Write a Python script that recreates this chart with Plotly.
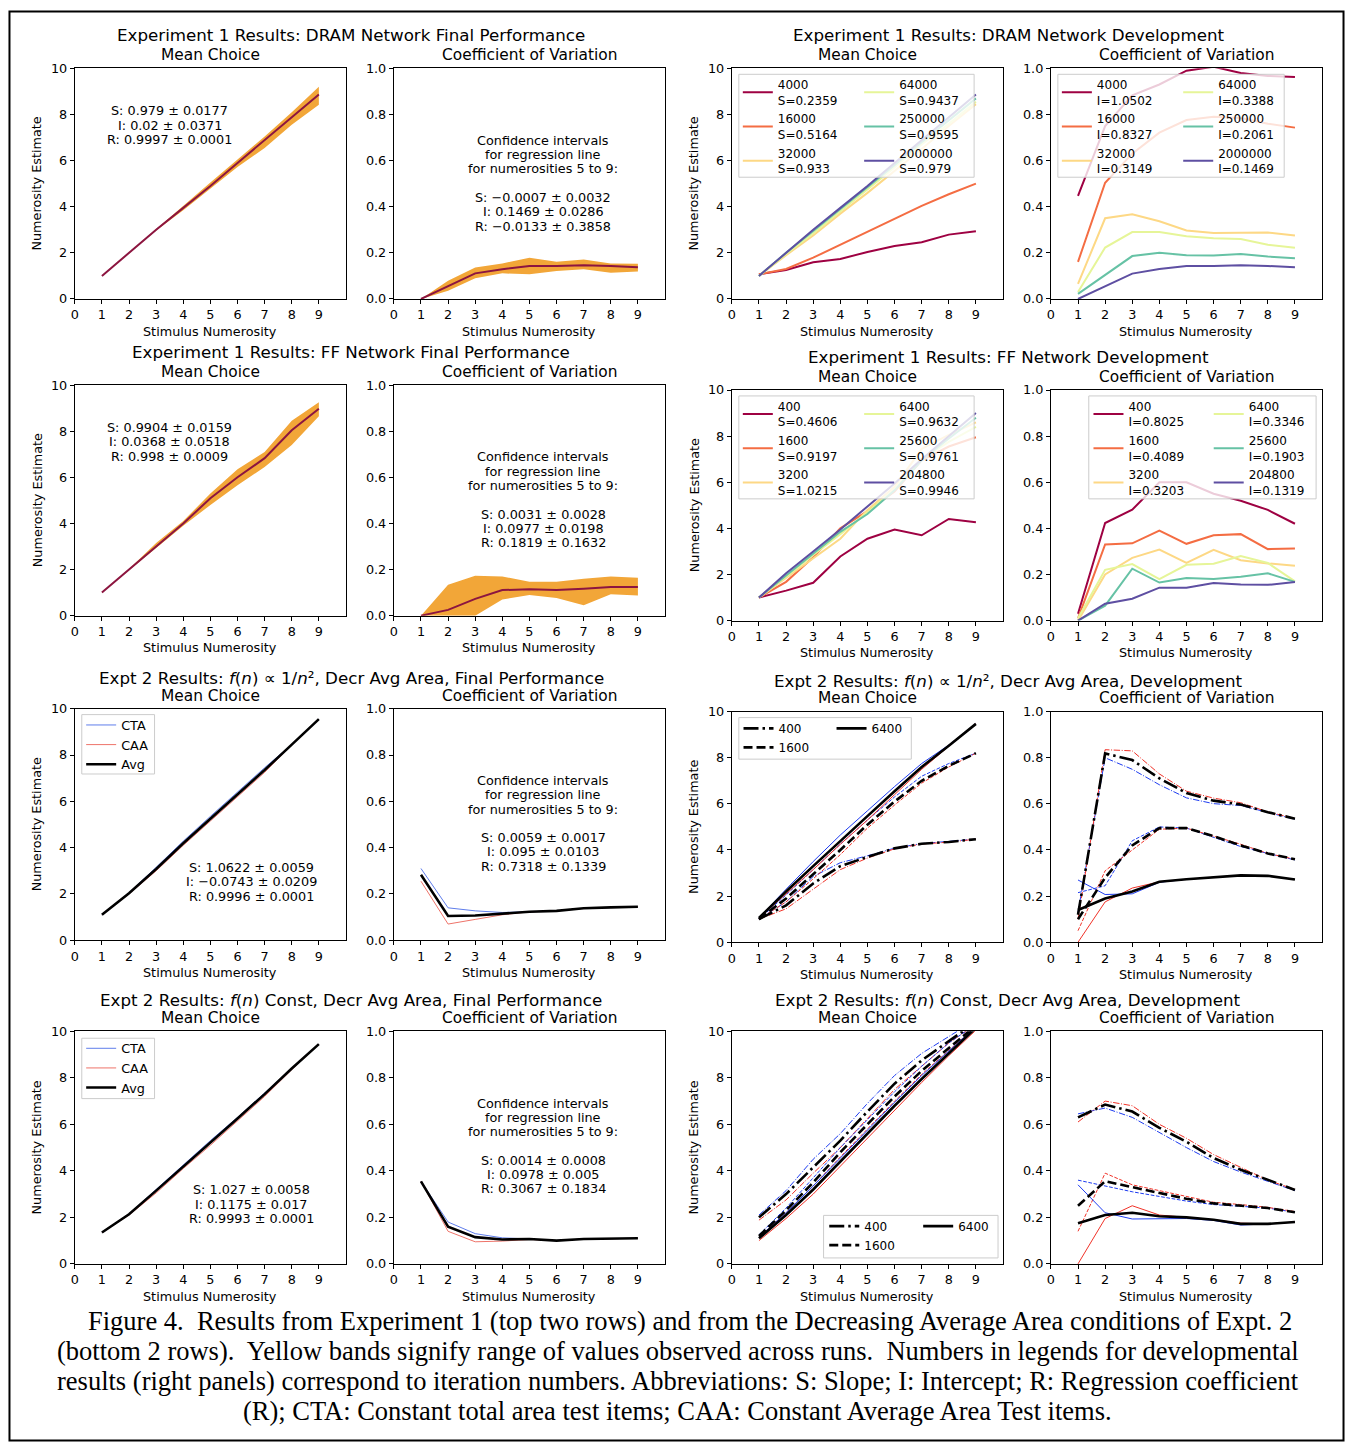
import plotly.graph_objects as go

W, H = 1349, 1451
FONT = "DejaVu Sans"
SERIF = "Liberation Serif"

# ---------------- data ----------------
X = [1, 2, 3, 4, 5, 6, 7, 8, 9]
X_TICKS = [0, 1, 2, 3, 4, 5, 6, 7, 8, 9]
MEAN_TICKS = [0, 2, 4, 6, 8, 10]
CV_TICKS = [0.0, 0.2, 0.4, 0.6, 0.8, 1.0]

# Experiment 1, DRAM final performance
dram_mean = [1.0, 2.0, 3.0, 3.95, 4.9, 5.9, 6.9, 7.9, 8.87]
dram_mean_hi = [1.0, 2.02, 3.03, 4.05, 5.05, 6.05, 7.05, 8.1, 9.2]
dram_mean_lo = [1.0, 1.98, 2.97, 3.85, 4.78, 5.72, 6.55, 7.55, 8.42]
dram_cv = [0.0, 0.054, 0.111, 0.129, 0.143, 0.143, 0.146, 0.143, 0.137]
dram_cv_hi = [0.0, 0.079, 0.136, 0.154, 0.179, 0.161, 0.171, 0.154, 0.153]
dram_cv_lo = [0.0, 0.036, 0.09, 0.111, 0.107, 0.121, 0.129, 0.114, 0.119]

# Experiment 1, DRAM development
dram_iters = ["4000", "16000", "32000", "64000", "250000", "2000000"]
dram_slopes = ["0.2359", "0.5164", "0.933", "0.9437", "0.9595", "0.979"]
dram_intercepts = ["1.0502", "0.8327", "0.3149", "0.3388", "0.2061", "0.1469"]
dram_mean_4000 = [1.07, 1.26, 1.59, 1.73, 2.04, 2.3, 2.46, 2.79, 2.94]
dram_mean_16000 = [1.07, 1.3, 1.79, 2.36, 2.9, 3.47, 4.04, 4.54, 5.0]
dram_mean_32000 = [1.0, 1.9, 2.75, 3.7, 4.6, 5.55, 6.5, 7.5, 8.45]
dram_mean_64000 = [1.0, 1.95, 2.85, 3.8, 4.75, 5.7, 6.7, 7.6, 8.55]
dram_mean_250000 = [1.0, 2.0, 2.95, 3.9, 4.85, 5.8, 6.8, 7.75, 8.7]
dram_mean_2000000 = [1.0, 2.0, 3.0, 3.95, 4.9, 5.9, 6.9, 7.9, 8.87]
dram_cv_4000 = [0.447, 0.75, 0.883, 0.93, 0.99, 1.007, 0.98, 0.967, 0.963]
dram_cv_16000 = [0.161, 0.504, 0.63, 0.721, 0.776, 0.79, 0.785, 0.76, 0.743]
dram_cv_32000 = [0.065, 0.35, 0.367, 0.337, 0.297, 0.286, 0.287, 0.288, 0.275]
dram_cv_64000 = [0.03, 0.223, 0.29, 0.29, 0.272, 0.263, 0.26, 0.235, 0.222]
dram_cv_250000 = [0.022, 0.105, 0.186, 0.2, 0.19, 0.188, 0.195, 0.184, 0.177]
dram_cv_2000000 = [0.0, 0.055, 0.11, 0.13, 0.143, 0.143, 0.146, 0.143, 0.137]

# Experiment 1, FF final performance
ff_mean = [1.0, 2.0, 3.04, 4.0, 5.09, 6.0, 6.83, 8.04, 8.97]
ff_mean_hi = [1.0, 2.02, 3.15, 4.1, 5.3, 6.35, 7.1, 8.45, 9.25]
ff_mean_lo = [1.0, 1.98, 2.95, 3.9, 4.8, 5.65, 6.45, 7.4, 8.65]
ff_cv = [0.0, 0.025, 0.073, 0.111, 0.114, 0.111, 0.117, 0.124, 0.124]
ff_cv_hi = [0.0, 0.134, 0.173, 0.17, 0.147, 0.147, 0.16, 0.17, 0.164]
ff_cv_lo = [0.0, 0.0, 0.0, 0.07, 0.09, 0.077, 0.045, 0.093, 0.087]

# Experiment 1, FF development
ff_iters = ["400", "1600", "3200", "6400", "25600", "204800"]
ff_slopes = ["0.4606", "0.9197", "1.0215", "0.9632", "0.9761", "0.9946"]
ff_intercepts = ["0.8025", "0.4089", "0.3203", "0.3346", "0.1903", "0.1319"]
ff_mean_400 = [1.0, 1.3, 1.64, 2.78, 3.55, 3.95, 3.7, 4.41, 4.27]
ff_mean_1600 = [1.0, 1.68, 2.75, 4.0, 4.75, 5.6, 6.95, 7.55, 7.95]
ff_mean_3200 = [1.0, 1.85, 2.7, 3.55, 4.8, 5.8, 7.45, 8.05, 8.6]
ff_mean_6400 = [1.0, 1.9, 2.85, 3.75, 4.7, 5.7, 7.0, 7.75, 8.4]
ff_mean_25600 = [1.0, 1.95, 2.9, 3.85, 4.62, 5.65, 6.95, 7.9, 8.8]
ff_mean_204800 = [1.0, 2.05, 3.0, 3.95, 4.95, 5.95, 7.0, 8.0, 9.0]
ff_cv_400 = [0.03, 0.423, 0.481, 0.6, 0.6, 0.55, 0.52, 0.48, 0.42]
ff_cv_1600 = [0.01, 0.33, 0.335, 0.39, 0.333, 0.37, 0.375, 0.31, 0.313]
ff_cv_3200 = [0.0, 0.2, 0.272, 0.308, 0.25, 0.307, 0.262, 0.248, 0.238]
ff_cv_6400 = [0.01, 0.22, 0.245, 0.18, 0.242, 0.247, 0.28, 0.25, 0.17]
ff_cv_25600 = [0.0, 0.065, 0.225, 0.165, 0.185, 0.18, 0.19, 0.205, 0.168]
ff_cv_204800 = [0.0, 0.073, 0.095, 0.143, 0.143, 0.163, 0.157, 0.155, 0.167]

# Expt 2, f(n) ~ 1/n^2, final performance
inv_mean_cta = [1.1, 2.05, 3.15, 4.28, 5.35, 6.4, 7.45, 8.45, 9.55]
inv_mean_caa = [1.1, 2.0, 3.0, 4.1, 5.15, 6.2, 7.25, 8.45, 9.55]
inv_mean_avg = [1.1, 2.03, 3.08, 4.19, 5.25, 6.3, 7.35, 8.45, 9.55]
inv_cv_cta = [0.31, 0.14, 0.127, 0.12, 0.123, 0.127, 0.138, 0.142, 0.145]
inv_cv_caa = [0.255, 0.07, 0.09, 0.11, 0.123, 0.127, 0.138, 0.142, 0.145]
inv_cv_avg = [0.283, 0.105, 0.107, 0.115, 0.123, 0.127, 0.138, 0.142, 0.145]

# Expt 2, f(n) ~ 1/n^2, development (iterations 400, 1600, 6400)
dev_iters = ["400", "1600", "6400"]
inv_dev_mean_400_cta = [1.0, 1.75, 2.85, 3.45, 3.75, 4.08, 4.28, 4.36, 4.47]
inv_dev_mean_400_caa = [1.0, 1.45, 2.3, 3.15, 3.65, 4.05, 4.26, 4.34, 4.47]
inv_dev_mean_400_avg = [1.0, 1.6, 2.55, 3.3, 3.7, 4.07, 4.27, 4.35, 4.47]
inv_dev_mean_1600_cta = [1.0, 2.05, 3.15, 4.25, 5.3, 6.3, 7.2, 7.75, 8.2]
inv_dev_mean_1600_caa = [1.0, 1.75, 2.75, 3.8, 4.95, 5.95, 6.9, 7.6, 8.2]
inv_dev_mean_1600_avg = [1.0, 1.9, 2.95, 4.0, 5.1, 6.1, 7.0, 7.65, 8.2]
inv_dev_mean_6400_cta = [1.05, 2.3, 3.5, 4.65, 5.7, 6.75, 7.75, 8.55, 9.47]
inv_dev_mean_6400_caa = [1.05, 2.1, 3.15, 4.25, 5.3, 6.4, 7.5, 8.5, 9.47]
inv_dev_mean_6400_avg = [1.05, 2.2, 3.3, 4.4, 5.47, 6.55, 7.6, 8.52, 9.47]
inv_dev_cv_400_cta = [0.13, 0.8, 0.75, 0.683, 0.626, 0.601, 0.593, 0.564, 0.533]
inv_dev_cv_400_caa = [0.1, 0.835, 0.83, 0.73, 0.655, 0.625, 0.605, 0.565, 0.537]
inv_dev_cv_400_avg = [0.119, 0.819, 0.79, 0.711, 0.647, 0.614, 0.597, 0.564, 0.536]
inv_dev_cv_1600_cta = [0.215, 0.245, 0.44, 0.5, 0.495, 0.455, 0.415, 0.385, 0.357]
inv_dev_cv_1600_caa = [0.05, 0.31, 0.4, 0.49, 0.495, 0.46, 0.425, 0.385, 0.36]
inv_dev_cv_1600_avg = [0.1, 0.28, 0.42, 0.495, 0.495, 0.46, 0.42, 0.385, 0.36]
inv_dev_cv_6400_cta = [0.27, 0.207, 0.21, 0.26, 0.273, 0.283, 0.29, 0.288, 0.272]
inv_dev_cv_6400_caa = [0.0, 0.175, 0.235, 0.262, 0.273, 0.283, 0.29, 0.288, 0.272]
inv_dev_cv_6400_avg = [0.14, 0.19, 0.22, 0.262, 0.273, 0.283, 0.29, 0.288, 0.272]

# Expt 2, f(n) const, final performance
con_mean_cta = [1.35, 2.15, 3.2, 4.25, 5.3, 6.3, 7.35, 8.4, 9.45]
con_mean_caa = [1.35, 2.1, 3.05, 4.1, 5.1, 6.15, 7.2, 8.35, 9.45]
con_mean_avg = [1.35, 2.13, 3.15, 4.17, 5.2, 6.25, 7.3, 8.4, 9.45]
con_cv_cta = [0.355, 0.18, 0.13, 0.112, 0.107, 0.1, 0.107, 0.11, 0.11]
con_cv_caa = [0.355, 0.14, 0.095, 0.098, 0.105, 0.1, 0.107, 0.11, 0.11]
con_cv_avg = [0.355, 0.16, 0.115, 0.105, 0.107, 0.1, 0.107, 0.11, 0.11]

# Expt 2, f(n) const, development
con_dev_mean_400_cta = [2.1, 3.15, 4.5, 5.6, 6.9, 8.1, 9.05, 9.8, 10.5]
con_dev_mean_400_caa = [1.88, 2.75, 3.9, 5.0, 6.25, 7.5, 8.5, 9.5, 10.3]
con_dev_mean_400_avg = [2.0, 3.0, 4.15, 5.3, 6.55, 7.75, 8.75, 9.6, 10.4]
con_dev_mean_1600_cta = [1.25, 2.4, 3.7, 5.0, 6.2, 7.4, 8.5, 9.5, 10.3]
con_dev_mean_1600_caa = [1.15, 2.2, 3.35, 4.6, 5.8, 7.0, 8.15, 9.2, 10.2]
con_dev_mean_1600_avg = [1.2, 2.3, 3.5, 4.8, 6.0, 7.2, 8.3, 9.3, 10.25]
con_dev_mean_6400_cta = [1.15, 2.2, 3.35, 4.55, 5.75, 6.95, 8.1, 9.15, 10.2]
con_dev_mean_6400_caa = [1.0, 1.95, 3.0, 4.2, 5.4, 6.6, 7.8, 8.95, 10.05]
con_dev_mean_6400_avg = [1.1, 2.1, 3.2, 4.4, 5.6, 6.8, 7.95, 9.05, 10.15]
con_dev_cv_400_cta = [0.645, 0.67, 0.63, 0.565, 0.5, 0.44, 0.395, 0.355, 0.315]
con_dev_cv_400_caa = [0.61, 0.7, 0.68, 0.6, 0.54, 0.47, 0.415, 0.36, 0.32]
con_dev_cv_400_avg = [0.63, 0.685, 0.655, 0.585, 0.525, 0.455, 0.405, 0.36, 0.318]
con_dev_cv_1600_cta = [0.36, 0.335, 0.31, 0.29, 0.27, 0.255, 0.248, 0.24, 0.222]
con_dev_cv_1600_caa = [0.14, 0.39, 0.34, 0.315, 0.29, 0.265, 0.255, 0.243, 0.225]
con_dev_cv_1600_avg = [0.25, 0.355, 0.33, 0.305, 0.28, 0.26, 0.25, 0.24, 0.222]
con_dev_cv_6400_cta = [0.34, 0.22, 0.193, 0.195, 0.195, 0.187, 0.167, 0.172, 0.18]
con_dev_cv_6400_caa = [0.0, 0.195, 0.25, 0.21, 0.2, 0.19, 0.175, 0.172, 0.18]
con_dev_cv_6400_avg = [0.175, 0.21, 0.22, 0.205, 0.2, 0.19, 0.172, 0.172, 0.18]

# text
dram_final_stats = ["S: 0.979 ± 0.0177", "I: 0.02 ± 0.0371", "R: 0.9997 ± 0.0001"]
dram_cv_stats = ["S: \u22120.0007 ± 0.0032", "I: 0.1469 ± 0.0286", "R: \u22120.0133 ± 0.3858"]
ff_final_stats = ["S: 0.9904 ± 0.0159", "I: 0.0368 ± 0.0518", "R: 0.998 ± 0.0009"]
ff_cv_stats = ["S: 0.0031 ± 0.0028", "I: 0.0977 ± 0.0198", "R: 0.1819 ± 0.1632"]
inv_final_stats = ["S: 1.0622 ± 0.0059", "I: \u22120.0743 ± 0.0209", "R: 0.9996 ± 0.0001"]
inv_cv_stats = ["S: 0.0059 ± 0.0017", "I: 0.095 ± 0.0103", "R: 0.7318 ± 0.1339"]
con_final_stats = ["S: 1.027 ± 0.0058", "I: 0.1175 ± 0.017", "R: 0.9993 ± 0.0001"]
con_cv_stats = ["S: 0.0014 ± 0.0008", "I: 0.0978 ± 0.005", "R: 0.3067 ± 0.1834"]
ci_header = ["Confidence intervals", "for regression line", "for numerosities 5 to 9:"]

row_titles_left = [
    "Experiment 1 Results: DRAM Network Final Performance",
    "Experiment 1 Results: FF Network Final Performance",
    "Expt 2 Results: <i>f</i>(<i>n</i>) \u221d 1/<i>n</i>\u00b2, Decr Avg Area, Final Performance",
    "Expt 2 Results: <i>f</i>(<i>n</i>) Const, Decr Avg Area, Final Performance",
]
row_titles_right = [
    "Experiment 1 Results: DRAM Network Development",
    "Experiment 1 Results: FF Network Development",
    "Expt 2 Results: <i>f</i>(<i>n</i>) \u221d 1/<i>n</i>\u00b2, Decr Avg Area, Development",
    "Expt 2 Results: <i>f</i>(<i>n</i>) Const, Decr Avg Area, Development",
]
caption_lines = [
    "Figure 4.\u00a0 Results from Experiment 1 (top two rows) and from the Decreasing Average Area conditions of Expt. 2",
    "(bottom 2 rows).\u00a0 Yellow bands signify range of values observed across runs.\u00a0 Numbers in legends for developmental",
    "results (right panels) correspond to iteration numbers. Abbreviations: S: Slope; I: Intercept; R: Regression coefficient",
    "(R); CTA: Constant total area test items; CAA: Constant Average Area Test items.",
]

# ---------------- styles / geometry ----------------
SPECTRAL = ["#9e0142", "#f46d43", "#fdd885", "#e6f598", "#66c2a5", "#5e4fa2"]
ORANGE = "rgb(242,166,56)"
MAROON = "#8c1540"
BLUE_F, RED_F = "rgb(95,125,235)", "rgb(238,115,105)"
BLUE_D, RED_D = "rgb(30,60,240)", "rgb(240,50,40)"
DASH_THICK = {"400": "15px,4px,2.5px,4px", "1600": "9px,4px", "6400": "solid"}
DASH_THIN = {"400": "6.4px,1.6px,1px,1.6px", "1600": "3.7px,1.6px", "6400": "solid"}

# panel frames in page pixels
COLS = [(71, 343), (391, 663), (730, 1002), (1050, 1322)]
ROWS_L = [(61, 294), (381, 614), (708, 942), (1034, 1269)]
ROWS_R = [(61, 294), (386, 619), (711, 944), (1034, 1269)]


def px(xp):
    return xp / W


def py(yp):
    return 1 - yp / H


def box(k):
    r, c = divmod(k - 1, 4)
    xl, xr = COLS[c]
    yt, yb = (ROWS_L if c < 2 else ROWS_R)[r]
    return xl, xr, yt, yb


def names(k):
    return ("x" if k == 1 else f"x{k}", "y" if k == 1 else f"y{k}")


fig = go.Figure()
layout = {}
common = dict(showline=True, mirror=True, linecolor="black", linewidth=1,
              ticks="outside", ticklen=4, tickwidth=1, tickcolor="black",
              showgrid=False, zeroline=False, fixedrange=True,
              tickfont=dict(family=FONT, size=12.8, color="black"))
for k in range(1, 17):
    xl, xr, yt, yb = box(k)
    xn, yn = names(k)
    cv = (k % 2 == 0)
    layout["xaxis" if k == 1 else f"xaxis{k}"] = dict(
        domain=[px(xl), px(xr)], anchor=yn, range=[0, 10],
        tickmode="array", tickvals=X_TICKS, **common)
    layout["yaxis" if k == 1 else f"yaxis{k}"] = dict(
        domain=[py(yb), py(yt)], anchor=xn,
        range=[0, 1] if cv else [0, 10], tickmode="array",
        tickvals=CV_TICKS if cv else MEAN_TICKS,
        tickformat=".1f" if cv else "d", **common)


def line(k, y, color, width, dash="solid", name=None, legend=None):
    xn, yn = names(k)
    fig.add_trace(go.Scatter(
        x=X, y=y, xaxis=xn, yaxis=yn, mode="lines",
        line=dict(color=color, width=width, dash=dash),
        name=name if name else "series", showlegend=legend is not None,
        legend=legend if legend else "legend", hoverinfo="skip"))


def band(k, lo, hi):
    xn, yn = names(k)
    fig.add_trace(go.Scatter(x=X, y=hi, xaxis=xn, yaxis=yn, mode="lines",
                             line=dict(width=0, color=ORANGE), showlegend=False,
                             name="range", hoverinfo="skip"))
    fig.add_trace(go.Scatter(x=X, y=lo, xaxis=xn, yaxis=yn, mode="lines",
                             line=dict(width=0, color=ORANGE), fill="tonexty",
                             fillcolor=ORANGE, showlegend=False, name="range",
                             hoverinfo="skip"))


# Row 1
band(1, dram_mean_lo, dram_mean_hi)
line(1, dram_mean, MAROON, 2)
band(2, dram_cv_lo, dram_cv_hi)
line(2, dram_cv, MAROON, 2)
dram_means = [dram_mean_4000, dram_mean_16000, dram_mean_32000,
              dram_mean_64000, dram_mean_250000, dram_mean_2000000]
dram_cvs = [dram_cv_4000, dram_cv_16000, dram_cv_32000,
            dram_cv_64000, dram_cv_250000, dram_cv_2000000]
for i in range(6):
    lg = "legend2" if i < 3 else "legend3"
    line(3, dram_means[i], SPECTRAL[i], 2,
         name=f"{dram_iters[i]}<br>S={dram_slopes[i]}", legend=lg)
for i in range(6):
    lg = "legend4" if i < 3 else "legend5"
    line(4, dram_cvs[i], SPECTRAL[i], 2,
         name=f"{dram_iters[i]}<br>I={dram_intercepts[i]}", legend=lg)

# Row 2
band(5, ff_mean_lo, ff_mean_hi)
line(5, ff_mean, MAROON, 2)
band(6, ff_cv_lo, ff_cv_hi)
line(6, ff_cv, MAROON, 2)
ff_means = [ff_mean_400, ff_mean_1600, ff_mean_3200, ff_mean_6400, ff_mean_25600, ff_mean_204800]
ff_cvs = [ff_cv_400, ff_cv_1600, ff_cv_3200, ff_cv_6400, ff_cv_25600, ff_cv_204800]
for i in range(6):
    lg = "legend6" if i < 3 else "legend7"
    line(7, ff_means[i], SPECTRAL[i], 2,
         name=f"{ff_iters[i]}<br>S={ff_slopes[i]}", legend=lg)
for i in range(6):
    lg = "legend8" if i < 3 else "legend9"
    line(8, ff_cvs[i], SPECTRAL[i], 2,
         name=f"{ff_iters[i]}<br>I={ff_intercepts[i]}", legend=lg)

# Row 3
line(9, inv_mean_cta, BLUE_F, 1, name="CTA", legend="legend10")
line(9, inv_mean_caa, RED_F, 1, name="CAA", legend="legend10")
line(9, inv_mean_avg, "black", 2.6, name="Avg", legend="legend10")
line(10, inv_cv_cta, BLUE_F, 1)
line(10, inv_cv_caa, RED_F, 1)
line(10, inv_cv_avg, "black", 2.6)

inv_dev_mean = {
    "400": (inv_dev_mean_400_cta, inv_dev_mean_400_caa, inv_dev_mean_400_avg),
    "1600": (inv_dev_mean_1600_cta, inv_dev_mean_1600_caa, inv_dev_mean_1600_avg),
    "6400": (inv_dev_mean_6400_cta, inv_dev_mean_6400_caa, inv_dev_mean_6400_avg),
}
inv_dev_cv = {
    "400": (inv_dev_cv_400_cta, inv_dev_cv_400_caa, inv_dev_cv_400_avg),
    "1600": (inv_dev_cv_1600_cta, inv_dev_cv_1600_caa, inv_dev_cv_1600_avg),
    "6400": (inv_dev_cv_6400_cta, inv_dev_cv_6400_caa, inv_dev_cv_6400_avg),
}
con_dev_mean = {
    "400": (con_dev_mean_400_cta, con_dev_mean_400_caa, con_dev_mean_400_avg),
    "1600": (con_dev_mean_1600_cta, con_dev_mean_1600_caa, con_dev_mean_1600_avg),
    "6400": (con_dev_mean_6400_cta, con_dev_mean_6400_caa, con_dev_mean_6400_avg),
}
con_dev_cv = {
    "400": (con_dev_cv_400_cta, con_dev_cv_400_caa, con_dev_cv_400_avg),
    "1600": (con_dev_cv_1600_cta, con_dev_cv_1600_caa, con_dev_cv_1600_avg),
    "6400": (con_dev_cv_6400_cta, con_dev_cv_6400_caa, con_dev_cv_6400_avg),
}


def dev_panel(k, series, legends):
    for it in dev_iters:
        cta, caa, avg = series[it]
        line(k, cta, BLUE_D, 1, DASH_THIN[it])
        line(k, caa, RED_D, 1, DASH_THIN[it])
    for it in dev_iters:
        cta, caa, avg = series[it]
        lg = None
        if legends:
            lg = legends[0] if it in ("400", "1600") else legends[1]
        line(k, avg, "black", 2.6, DASH_THICK[it], name=it, legend=lg)


dev_panel(11, inv_dev_mean, ("legend11", "legend12"))
dev_panel(12, inv_dev_cv, None)

# Row 4
line(13, con_mean_cta, BLUE_F, 1, name="CTA", legend="legend13")
line(13, con_mean_caa, RED_F, 1, name="CAA", legend="legend13")
line(13, con_mean_avg, "black", 2.6, name="Avg", legend="legend13")
line(14, con_cv_cta, BLUE_F, 1)
line(14, con_cv_caa, RED_F, 1)
line(14, con_cv_avg, "black", 2.6)
dev_panel(15, con_dev_mean, ("legend14", "legend15"))
dev_panel(16, con_dev_cv, None)


# ---------------- legends ----------------
def legend_at(x_line_px, y_sym_px, size, nlines):
    h = max(16, nlines * size * 1.3) + 3
    top = y_sym_px - 5 - h / 2
    return dict(x=px(x_line_px - 5), y=py(top), xanchor="left", yanchor="top",
                bgcolor="rgba(0,0,0,0)", borderwidth=0, tracegroupgap=0,
                font=dict(family=FONT, size=size, color="black"),
                itemclick=False, itemdoubleclick=False)


layout["legend2"] = legend_at(741, 85, 12, 2)
layout["legend3"] = legend_at(862.7, 85, 12, 2)
layout["legend4"] = legend_at(1061, 85, 12, 2)
layout["legend5"] = legend_at(1182.7, 85, 12, 2)
layout["legend6"] = legend_at(741, 410, 12, 2)
layout["legend7"] = legend_at(862.7, 410, 12, 2)
layout["legend8"] = legend_at(1092.7, 410, 12, 2)
layout["legend9"] = legend_at(1213.3, 410, 12, 2)
layout["legend10"] = legend_at(82.4, 724.3, 12.8, 1)
layout["legend11"] = legend_at(741.7, 727.7, 12, 1)
layout["legend12"] = legend_at(835, 727.7, 12, 1)
layout["legend13"] = legend_at(82.4, 1051, 12.8, 1)
layout["legend14"] = legend_at(827.7, 1230.7, 12, 1)
layout["legend15"] = legend_at(921.9, 1230.7, 12, 1)

legend_boxes = [(737, 973, 67, 171), (1057, 1284, 67, 171), (737, 973, 392, 496),
                (1088, 1316, 392, 496), (78, 151, 714, 774), (737, 910, 717, 759),
                (78, 151, 1041, 1102), (822, 997, 1220, 1263)]
shapes = []
for (x0, x1, y0, y1) in legend_boxes:
    shapes.append(dict(type="rect", xref="paper", yref="paper", layer="above",
                       x0=px(x0), x1=px(x1), y0=py(y1), y1=py(y0),
                       fillcolor="rgba(255,255,255,0.8)",
                       line=dict(color="#cccccc", width=1)))
# outer frame of the figure
shapes.append(dict(type="rect", xref="paper", yref="paper", layer="above",
                   x0=px(5.5), x1=px(1343.5), y0=py(1447.5), y1=py(3.5),
                   line=dict(color="black", width=2), fillcolor="rgba(0,0,0,0)"))

# ---------------- annotations ----------------
anns = []


def text(t, xp, yp, size, family=FONT, angle=0):
    anns.append(dict(text=t, x=px(xp), y=py(yp), xref="paper", yref="paper",
                     xanchor="center", yanchor="middle", showarrow=False,
                     textangle=angle, font=dict(family=family, size=size, color="black")))


left_title_y = [27, 347.5, 676.5, 1002]
right_title_y = [27, 353, 680.5, 1002]
for r in range(4):
    text(row_titles_left[r], 348.5, left_title_y[r], 16.7)
    text(row_titles_right[r], 1007, right_title_y[r], 16.7)

for k in range(1, 17):
    xl, xr, yt, yb = box(k)
    cx = (xl + xr) / 2
    sub = "Coefficient of Variation" if k % 2 == 0 else "Mean Choice"
    text(sub, cx, yt - 13.3, 15.4)
    text("Stimulus Numerosity", cx, yb + 32.5, 12.8)
    if k % 2 == 1:
        text("Numerosity Estimate", xl - 38, (yt + yb) / 2, 12.8, angle=-90)


def stats_block(k, lines, dx, dys):
    xl, xr, yt, yb = box(k)
    for t, dy in zip(lines, dys):
        text(t, xl + dx, yt + dy, 12.8)


stats_block(1, dram_final_stats, 95, [43, 57.3, 71.7])
stats_block(5, ff_final_stats, 95, [43, 57.3, 71.7])
stats_block(9, inv_final_stats, 177, [160, 175, 189.5])
stats_block(13, con_final_stats, 177, [160, 175, 189.5])
CI_DY = [72.5, 87, 101.5, 130.5, 144.8, 159.3]
for k, st in [(2, dram_cv_stats), (6, ff_cv_stats), (10, inv_cv_stats), (14, con_cv_stats)]:
    stats_block(k, ci_header + st, 150, CI_DY)

cap_y = [1327, 1357, 1387, 1418]
cap_x = [688.5, 676, 676, 675.5]
for t, xx, yy in zip(caption_lines, cap_x, cap_y):
    text(t, xx, yy, 26.5, family=SERIF)

fig.update_layout(
    width=W, height=H, margin=dict(l=0, r=0, t=0, b=0, pad=0),
    paper_bgcolor="white", plot_bgcolor="white", showlegend=True,
    shapes=shapes, annotations=anns,
    font=dict(family=FONT, color="black"),
    **layout,
)

fig.write_html("out.html", config={"displayModeBar": False},
               post_script="document.body.style.margin='0';document.body.style.overflow='hidden';")
